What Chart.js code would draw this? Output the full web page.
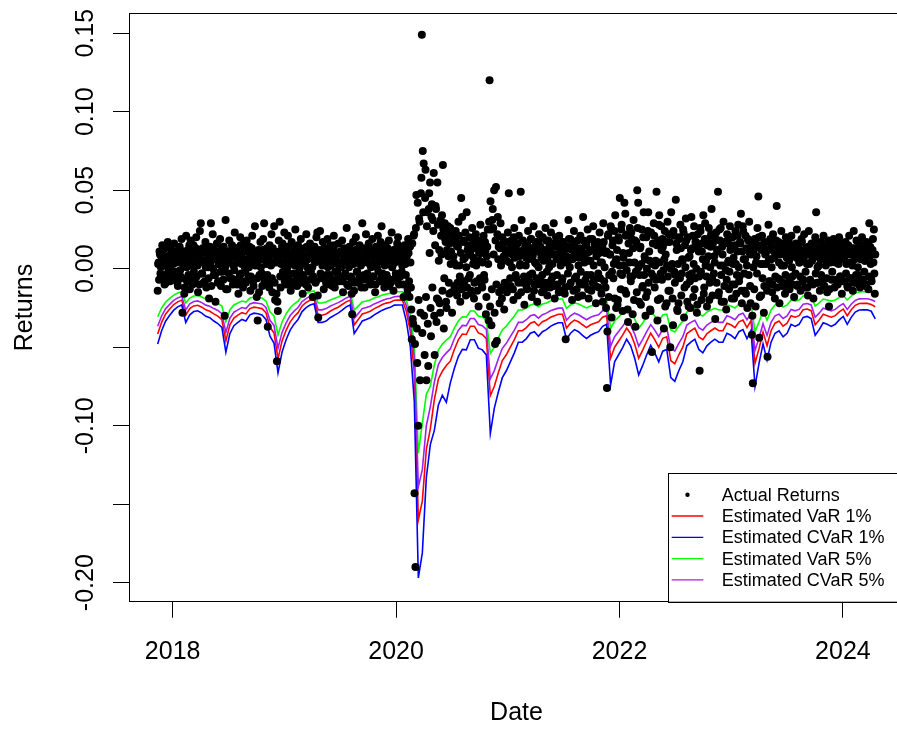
<!DOCTYPE html>
<html>
<head>
<meta charset="utf-8">
<script src="https://cdn.jsdelivr.net/npm/chart.js@4.4.1/dist/chart.umd.min.js"></script>
<style>
  html, body { margin: 0; padding: 0; background: #fff; overflow: hidden; }
  #wrap { width: 920px; height: 729px; }
</style>
</head>
<body>
<div id="wrap"><canvas id="c" width="920" height="729"></canvas></div>
<script>
// Daily returns on an evenly spaced session grid between these two dates.
// The series is stored as two halves: odd sessions and even sessions.
const returnsFirstDate = '2017-11-13';
const returnsLastDate = '2024-04-16';
const returnsOddSessions = [
  -.014,.004,.011,-.003,.008,.015,-.006,.002,.013,-.009,.006,.017,.001,-.004,.009,.012,-.007,.003,.016,.005,
  -.002,.010,-.011,.007,.014,-.005,.019,-.028,.003,-.016,.009,.021,-.008,.012,.004,-.013,.018,.006,-.010,.015,
  .002,-.006,.020,.011,-.015,.008,.024,.029,-.003,.013,-.009,.005,.017,-.012,.010,.001,-.019,.014,.029,.007,
  .022,-.004,.012,-.021,.006,.016,-.008,.003,.019,-.011,.009,-.002,.014,-.030,.031,.004,-.013,.011,.018,-.006,
  .008,.015,-.010,.002,.023,-.007,.013,.005,-.016,.010,.020,-.003,.007,-.012,.016,.001,-.009,.018,.011,-.005,
  .014,-.014,.006,.021,-.008,.010,.027,.003,-.018,-.033,.012,-.004,.017,.008,-.011,.019,.029,-.006,.009,.013,
  -.037,.005,.015,-.009,.022,-.015,.011,.027,-.020,.004,
  -.059,
  -.027,.018,.030,-.012,.009,.016,-.005,.023,.002,-.010,.014,.021,-.003,.008,-.014,.017,.006,-.008,.012,.025,
  .003,-.011,.015,.007,-.004,.019,.010,-.016,.005,.013,-.007,.022,.001,-.012,.009,.016,-.002,.011,-.018,.006,
  .014,-.009,.020,.023,-.031,.012,.024,-.006,.008,.017,-.013,.003,.010,-.004,.019,.007,-.010,.015,.002,-.007,
  .013,.021,-.012,.005,.009,-.003,.016,-.008,.011,.001,.018,-.015,.007,.012,-.005,.026,.004,-.011,.014,.008,
  -.006,-.029,.017,-.014,.009,.020,-.002,.011,-.009,.015,.005,-.012,.029,.007,-.004,.013,.022,-.007,.010,.016,
  .003,-.010,.012,.019,-.005,.008,-.015,.014,.001,.021,.006,-.008,.017,.027,-.003,.010,-.012,.015,.004,.009,
  -.006,.018,.011,-.009,.023,.002,-.014,.012,.007,-.004,.016,.020,-.010,.005,.013,-.002,.009,-.018,.015,.003,
  .011,-.016,.019,-.008,.014,-.012,-.045,-.032,.021,-.143,
  -.190,.047,-.060,-.100,.032,-.071,.048,.149,.075,.067,-.055,.063,-.071,.036,-.062,.048,.055,-.043,.041,.031,
  .061,-.055,.040,-.034,.055,-.020,.012,-.028,.021,.034,.066,-.038,.029,.017,-.025,.022,.008,-.016,.026,.011,
  -.028,.019,.004,-.013,.024,.015,-.009,.030,.002,-.021,.045,.033,-.011,.018,.007,-.017,.036,.012,-.006,.020,
  .009,-.014,.026,.003,-.019,.016,.022,-.008,.013,-.024,.005,.028,.010,-.012,.019,-.004,.017,-.029,.008,.025,
  -.033,.120,.043,-.036,.031,.026,.050,-.048,.052,-.046,.033,.014,-.022,.029,-.012,.020,.006,-.026,.017,.010,
  -.015,.023,.048,.004,-.011,.018,.009,-.020,.026,.013,-.006,.016,-.017,.021,.002,.049,.031,-.009,.012,-.023,
  .015,.007,-.013,.024,.011,-.004,.019,-.018,.008,.027,-.010,.014,.003,-.021,.017,.022,-.007,.010,-.015,.020,
  .005,-.009,.026,.012,-.017,.018,.001,-.012,.023,.009,-.005,.029,-.019,.014,.006,-.010,.016,.021,-.014,.008,
  -.008,.017,.011,-.016,-.045,.013,.004,.031,-.011,.019,.007,-.020,.015,.024,-.006,.010,-.013,.018,.002,-.009,
  .021,.012,-.017,.033,.008,-.010,.016,-.004,.025,-.019,.011,.005,-.014,.019,.027,-.007,.013,-.022,.009,.017,
  -.012,.023,.004,-.016,.014,.029,-.008,.010,-.025,
  -.076,
  .021,-.018,.009,.027,-.031,.015,-.006,.024,.034,-.025,.012,-.020,.018,.045,-.013,.028,-.027,.007,.042,.035,
  -.016,.022,-.034,.010,.026,-.008,.019,-.029,.031,.004,-.037,.017,.050,.042,-.021,.013,-.023,.025,-.011,.036,
  .008,-.030,.020,-.015,.036,.011,-.026,.023,-.053,.016,.029,-.012,.005,.049,-.033,.018,.034,-.019,.027,-.007,
  .014,-.038,.024,.009,-.022,.030,-.014,.017,-.050,.036,.003,-.036,.021,-.009,.044,.012,-.027,-.022,.019,.028,
  -.017,.006,.025,-.031,.015,.032,-.010,.020,-.024,.008,-.025,.033,.013,-.018,.027,-.006,.017,-.028,.022,.011,
  -.065,
  .024,-.020,.016,.034,-.012,.029,.005,-.024,.019,.026,-.009,.014,.038,-.017,.021,.008,-.032,.023,.012,
  .049,
  -.015,.018,.026,-.021,.009,.030,-.011,.016,-.026,.022,.004,-.013,.027,.015,-.019,.020,.007,-.010,.024,
  -.016,.011,.028,-.008,.017,.035,-.022,.027,.006,-.014,.021,.013,-.025,.018,.030,-.011,.009,-.042,-.073,.012,
  .019,-.024,.008,.026,.046,-.044,.015,-.017,.021,.003,-.028,.017,.010,-.012,-.056,.028,-.008,.019,.006,-.015,
  .022,.011,-.019,.013,.040,-.006,.017,-.022,.009,.024,-.011,.015,.002,-.016,.020,.007,-.009,.018,-.013,.012,
  .021,-.005,.014,-.018,.008,.016,.025,-.010,.011,.004,-.014,.019,.009,-.007,.022,-.012,.013,.003,-.017,.024,
  .010,-.008,.016,.006,-.019,.013,.020,.036,-.009,.012,.002,-.014,.017,.008,-.006,.021,-.011,.014,.005,-.015,
  .018,-.024,.009,.015,-.007,.012,.019,-.012,.004,.016,-.009,.011,.020,-.005,.007,-.016,.014,.010,-.008,.017,
  .003,-.011,.015,.021,-.006,.009,.013,-.014,.024,.006,-.009,.018,.011,-.004,.016,-.012,.008,.020,-.007,.012,
  .005,-.010,.017,.009,-.013,.029,.014,-.006,.011,.019,.025,-.016
];
const returnsEvenSessions = [
  .003,-.007,.009,.001,-.004,.012,.006,-.010,.002,.008,-.003,.014,.000,-.008,.005,.010,-.002,.007,-.005,.011,
  .004,-.009,.006,.013,-.001,.008,-.006,.003,.011,-.012,.005,.001,.009,-.004,.015,.002,-.007,.010,.004,-.002,
  .007,.013,-.005,.002,.009,-.010,.006,.012,-.003,.004,.010,-.008,.001,.014,.005,-.006,.008,.003,-.011,.011,
  .000,.006,-.004,.010,.016,-.009,.003,.007,-.002,.012,.005,-.007,.009,.001,-.013,.006,.011,-.003,.004,.008,
  -.006,.010,.002,-.001,.013,.007,-.010,.004,.009,-.004,.015,.003,-.008,.006,.011,-.002,.005,.012,-.007,.001,
  .008,-.005,.013,.004,-.011,.007,.002,.010,-.006,.005,-.015,.009,.001,-.003,.012,.006,-.008,.011,.003,-.004,
  .007,-.012,.010,.002,-.006,.013,.004,-.009,.008,-.016,-.021,.006,.011,-.005,.003,.014,-.002,.009,-.008,.005,
  .012,.001,-.006,.010,.004,-.011,.007,.015,-.003,.002,.009,-.007,.006,.013,.000,-.009,.011,.004,-.004,.008,
  .003,-.010,.014,.006,-.002,.009,-.007,.012,.001,-.005,.010,.004,-.008,.007,-.017,.005,.011,-.003,.008,.002,
  -.006,.013,.005,-.009,.010,.001,.007,-.004,.012,.003,-.011,.008,.015,-.002,.006,-.007,.010,.002,-.005,.011,
  .004,-.008,.009,.013,-.003,.006,-.010,.011,.001,.007,-.005,-.016,.010,.003,-.009,.012,.005,-.002,.008,-.006,
  .014,.002,-.007,.009,.004,-.012,.011,.006,-.003,.008,.013,-.008,.001,.010,-.005,.007,.003,-.010,.012,.004,
  -.002,.009,.015,-.006,.005,.011,-.009,.002,.008,-.004,.013,.006,-.011,.003,.010,.001,-.007,.012,.004,-.003,
  .009,-.008,.014,.005,-.005,.011,.002,-.010,.007,.013,-.004,.008,-.013,.010,-.018,.004,-.026,.016,-.035,.022,
  -.048,.026,-.038,.042,-.020,.030,-.028,.058,-.041,.036,-.030,.045,-.018,.027,-.035,.038,.010,-.025,.033,-.012,
  .024,-.030,.015,.038,-.019,.028,.005,-.022,.031,.009,-.014,.025,-.006,.019,-.021,.012,.027,-.009,.016,.003,
  -.015,.022,.008,-.011,.018,.002,-.017,.014,.021,-.005,.010,-.013,.017,.006,-.008,.023,.001,-.012,.015,.009,
  -.004,.012,-.016,.019,.007,-.009,.013,.002,-.014,.018,.010,-.006,.015,-.011,.004,.021,-.007,.011,-.018,.014,
  .003,.030,-.024,.025,-.013,.038,.009,-.028,.018,-.010,.022,.006,-.015,.013,.002,-.019,.016,.008,-.009,.012,
  .005,-.011,.017,.010,-.006,.014,.001,-.013,.020,.007,-.004,.012,.016,-.009,.008,.003,-.015,.011,.018,-.005,
  .009,.002,-.012,.015,.006,-.008,.013,.019,-.003,.010,-.014,.004,.017,-.006,.011,.001,-.010,.014,.007,-.004,
  .012,-.013,.008,.018,-.002,.005,-.009,.015,.011,-.007,.003,.016,-.011,.009,.020,-.004,.006,-.015,.013,.002,
  .010,-.006,.017,.004,-.012,.008,.014,-.003,.019,.001,-.009,.012,.006,-.014,.016,.009,-.005,.011,-.018,.007,
  .013,-.002,.008,-.010,.018,.004,-.007,.015,.010,-.013,.005,.019,-.004,.012,-.009,.002,.016,-.011,.008,.014,
  -.003,.010,-.006,.013,.004,-.021,.017,.001,-.012,.011,-.040,.022,-.004,.009,.026,-.002,.018,.003,-.019,.005,
  .006,-.023,.020,.002,-.003,.025,-.004,.010,.002,-.014,.021,-.001,-.026,.016,.004,-.005,.023,-.005,.013,-.020,
  .018,-.002,-.015,.026,.001,-.004,.014,.003,-.012,.020,-.004,.006,-.018,.000,.024,-.009,.005,-.027,-.003,.003,
  -.005,.021,.002,-.007,.015,-.020,.028,.004,-.003,.012,.019,-.001,.006,-.024,.017,.002,-.005,.022,-.014,.000,
  .002,-.019,.024,-.002,-.004,.016,-.026,.003,.020,-.006,.013,-.003,.005,.023,-.012,.001,.018,-.021,.007,-.004,
  -.008,.012,-.003,.021,.003,-.013,.017,.000,-.023,.014,-.005,.026,-.002,.011,.006,-.016,.019,.002,-.005,.015,
  .008,-.020,.001,.022,-.006,.016,-.003,.004,.019,-.009,.011,-.017,.025,.002,-.004,.014,.002,-.021,.017,-.001,
  -.007,.018,.005,-.002,.012,.020,-.010,.003,-.019,.015,.003,-.004,.021,.001,-.005,.016,-.014,.011,.024,-.003,
  .006,-.016,.002,.019,-.004,.010,-.022,.015,-.030,.001,-.013,.017,.004,-.003,.014,.020,-.018,.003,.012,-.006,
  .015,-.011,.009,.003,-.014,.012,.006,-.008,.016,.001,-.010,.013,.007,-.005,.018,-.012,.010,.004,-.007,.014,
  .002,-.009,.011,.016,-.004,.008,-.013,.012,.005,-.006,.015,.001,-.010,.009,.013,-.003,.007,-.011,.014,.004,
  -.005,.010,.017,-.008,.006,.012,-.002,.009,-.012,.014,.003,-.007,.011,.005,-.010,.016,.008,-.003,.012,.001,
  -.009,.013,.006,-.004,.010,.015,-.011,.007,.002,-.006,.012,.009,-.013,.004,.011,-.002,.008,.014,-.007,.005,
  .010,-.010,.003,.013,-.005,.008,.016,-.008,.006,.011,-.003,.009,-.012,.014,.004,-.006,.010,.002,-.009,.013,
  .007,-.004,.012,.001,-.010,.015,.006,-.007,.009,.013,-.002,.005,-.011,.010,.016,-.005,.008,.003,-.008,.012,
  .004,-.003,.009
];

// Risk estimates, on an evenly spaced date grid between these two dates
const riskFirstDate = '2017-11-13';
const riskLastDate = '2024-04-16';
const var1 = [
  -.0416,-.0340,-.0288,-.0257,-.0228,-.0211,-.0200,-.0296,-.0254,-.0237,
  -.0233,-.0245,-.0262,-.0271,-.0288,-.0302,-.0324,-.0460,-.0358,-.0314,
  -.0296,-.0280,-.0288,-.0254,-.0245,-.0249,-.0254,-.0280,-.0373,-.0409,
  -.0574,-.0461,-.0393,-.0340,-.0306,-.0280,-.0237,-.0215,-.0200,-.0193,
  -.0296,-.0296,-.0288,-.0271,-.0257,-.0245,-.0228,-.0211,-.0200,-.0358,
  -.0324,-.0288,-.0280,-.0271,-.0254,-.0242,-.0228,-.0219,-.0214,-.0201,
  -.0200,-.0200,-.0271,-.0401,-.0661,-.1600,-.1480,-.1150,-.1020,-.0834,
  -.0704,-.0653,-.0617,-.0589,-.0514,-.0453,-.0416,-.0419,-.0366,-.0366,
  -.0409,-.0419,-.0445,-.0809,-.0749,-.0662,-.0585,-.0548,-.0500,-.0452,
  -.0395,-.0395,-.0375,-.0347,-.0338,-.0363,-.0338,-.0327,-.0309,-.0299,
  -.0290,-.0290,-.0378,-.0347,-.0327,-.0338,-.0357,-.0375,-.0357,-.0347,
  -.0338,-.0309,-.0299,-.0570,-.0500,-.0462,-.0423,-.0378,-.0414,-.0480,
  -.0570,-.0519,-.0462,-.0411,-.0452,-.0500,-.0443,-.0434,-.0585,-.0605,
  -.0548,-.0500,-.0414,-.0395,-.0378,-.0434,-.0452,-.0414,-.0395,-.0378,
  -.0395,-.0395,-.0347,-.0357,-.0375,-.0338,-.0327,-.0375,-.0330,-.0602,
  -.0509,-.0404,-.0491,-.0395,-.0347,-.0333,-.0366,-.0347,-.0299,-.0309,
  -.0299,-.0261,-.0257,-.0267,-.0357,-.0327,-.0290,-.0299,-.0309,-.0299,
  -.0275,-.0257,-.0299,-.0261,-.0233,-.0222,-.0221,-.0221,-.0228,-.0242
];
const cvar1 = [
  -.0480,-.0393,-.0333,-.0297,-.0264,-.0243,-.0231,-.0342,-.0294,-.0273,
  -.0268,-.0283,-.0303,-.0312,-.0333,-.0349,-.0374,-.0531,-.0413,-.0363,
  -.0342,-.0323,-.0333,-.0294,-.0283,-.0287,-.0294,-.0323,-.0430,-.0473,
  -.0663,-.0532,-.0454,-.0393,-.0353,-.0323,-.0273,-.0248,-.0231,-.0223,
  -.0342,-.0342,-.0333,-.0312,-.0297,-.0283,-.0264,-.0243,-.0231,-.0413,
  -.0374,-.0333,-.0323,-.0312,-.0294,-.0279,-.0264,-.0253,-.0246,-.0232,
  -.0231,-.0231,-.0334,-.0496,-.0850,-.1970,-.1810,-.1330,-.1120,-.1030,
  -.0870,-.0806,-.0850,-.0727,-.0635,-.0559,-.0514,-.0517,-.0452,-.0452,
  -.0506,-.0517,-.0549,-.1050,-.0888,-.0785,-.0694,-.0650,-.0593,-.0536,
  -.0468,-.0468,-.0445,-.0411,-.0401,-.0431,-.0401,-.0388,-.0367,-.0354,
  -.0344,-.0344,-.0449,-.0411,-.0388,-.0401,-.0424,-.0445,-.0424,-.0411,
  -.0401,-.0367,-.0354,-.0740,-.0593,-.0548,-.0502,-.0449,-.0491,-.0570,
  -.0676,-.0616,-.0548,-.0488,-.0536,-.0593,-.0525,-.0514,-.0694,-.0717,
  -.0650,-.0593,-.0491,-.0468,-.0449,-.0514,-.0536,-.0491,-.0468,-.0449,
  -.0468,-.0468,-.0411,-.0424,-.0445,-.0401,-.0388,-.0445,-.0392,-.0750,
  -.0603,-.0479,-.0582,-.0468,-.0411,-.0395,-.0434,-.0411,-.0354,-.0367,
  -.0354,-.0310,-.0304,-.0317,-.0424,-.0388,-.0344,-.0354,-.0367,-.0354,
  -.0326,-.0304,-.0354,-.0310,-.0276,-.0263,-.0262,-.0262,-.0271,-.0320
];
const var5 = [
  -.0306,-.0250,-.0212,-.0189,-.0168,-.0155,-.0147,-.0218,-.0187,-.0174,
  -.0171,-.0180,-.0193,-.0199,-.0212,-.0222,-.0238,-.0338,-.0263,-.0231,
  -.0218,-.0206,-.0212,-.0187,-.0180,-.0183,-.0187,-.0206,-.0274,-.0301,
  -.0422,-.0339,-.0289,-.0250,-.0225,-.0206,-.0174,-.0158,-.0147,-.0142,
  -.0218,-.0218,-.0212,-.0199,-.0189,-.0180,-.0168,-.0155,-.0147,-.0263,
  -.0238,-.0212,-.0206,-.0199,-.0187,-.0178,-.0168,-.0161,-.0157,-.0148,
  -.0147,-.0147,-.0199,-.0295,-.0486,-.1174,-.0983,-.0800,-.0747,-.0613,
  -.0518,-.0480,-.0454,-.0433,-.0378,-.0333,-.0306,-.0308,-.0269,-.0269,
  -.0301,-.0308,-.0327,-.0539,-.0499,-.0441,-.0390,-.0365,-.0333,-.0301,
  -.0263,-.0263,-.0250,-.0231,-.0225,-.0242,-.0225,-.0218,-.0206,-.0199,
  -.0193,-.0193,-.0252,-.0231,-.0218,-.0225,-.0238,-.0250,-.0238,-.0231,
  -.0225,-.0206,-.0199,-.0380,-.0333,-.0308,-.0282,-.0252,-.0276,-.0320,
  -.0380,-.0346,-.0308,-.0274,-.0301,-.0333,-.0295,-.0289,-.0390,-.0403,
  -.0365,-.0333,-.0276,-.0263,-.0252,-.0289,-.0301,-.0276,-.0263,-.0252,
  -.0263,-.0263,-.0231,-.0238,-.0250,-.0225,-.0218,-.0250,-.0220,-.0401,
  -.0339,-.0269,-.0327,-.0263,-.0231,-.0222,-.0244,-.0231,-.0199,-.0206,
  -.0199,-.0174,-.0171,-.0178,-.0238,-.0218,-.0193,-.0199,-.0206,-.0199,
  -.0183,-.0171,-.0199,-.0174,-.0155,-.0148,-.0147,-.0147,-.0152,-.0161
];
const cvar5 = [
  -.0367,-.0300,-.0254,-.0227,-.0202,-.0186,-.0176,-.0262,-.0224,-.0209,
  -.0205,-.0216,-.0232,-.0239,-.0254,-.0266,-.0286,-.0406,-.0316,-.0277,
  -.0262,-.0247,-.0254,-.0224,-.0216,-.0220,-.0224,-.0247,-.0329,-.0361,
  -.0506,-.0407,-.0347,-.0300,-.0270,-.0247,-.0209,-.0190,-.0176,-.0170,
  -.0262,-.0262,-.0254,-.0239,-.0227,-.0216,-.0202,-.0186,-.0176,-.0316,
  -.0286,-.0254,-.0247,-.0239,-.0224,-.0214,-.0202,-.0193,-.0188,-.0178,
  -.0176,-.0176,-.0235,-.0348,-.0573,-.1389,-.1280,-.1000,-.0880,-.0723,
  -.0611,-.0566,-.0536,-.0511,-.0446,-.0393,-.0361,-.0363,-.0317,-.0317,
  -.0355,-.0363,-.0386,-.0701,-.0649,-.0573,-.0507,-.0475,-.0433,-.0391,
  -.0342,-.0342,-.0325,-.0300,-.0293,-.0315,-.0293,-.0283,-.0268,-.0259,
  -.0251,-.0251,-.0328,-.0300,-.0283,-.0293,-.0309,-.0325,-.0309,-.0300,
  -.0293,-.0268,-.0259,-.0494,-.0433,-.0400,-.0367,-.0328,-.0359,-.0416,
  -.0494,-.0450,-.0400,-.0356,-.0391,-.0433,-.0384,-.0376,-.0507,-.0524,
  -.0475,-.0433,-.0359,-.0342,-.0328,-.0376,-.0391,-.0359,-.0342,-.0328,
  -.0342,-.0342,-.0300,-.0309,-.0325,-.0293,-.0283,-.0325,-.0286,-.0521,
  -.0441,-.0350,-.0425,-.0342,-.0300,-.0289,-.0317,-.0300,-.0259,-.0268,
  -.0259,-.0226,-.0222,-.0231,-.0309,-.0283,-.0251,-.0259,-.0268,-.0259,
  -.0238,-.0222,-.0259,-.0226,-.0202,-.0192,-.0191,-.0191,-.0198,-.0209
];

const seriesLabels = ['Actual Returns', 'Estimated VaR 1%', 'Estimated CVaR 1%', 'Estimated VaR 5%', 'Estimated CVaR 5%'];
const seriesColors = ['#000000', '#FF0000', '#0000FF', '#00FF00', '#A020F0'];
const xTickValues = [2018, 2020, 2022, 2024];
const xTickLabels = ['2018', '2020', '2022', '2024'];
const yTickValues = [-0.20, -0.15, -0.10, -0.05, 0.00, 0.05, 0.10, 0.15];
const yTickLabels = ['-0.20', '', '-0.10', '', '0.00', '0.05', '0.10', '0.15'];
const xTitle = 'Date';
const yTitle = 'Returns';

// put the two halves back in session order
const actualReturns = [];
returnsOddSessions.forEach((v, i) => {
  actualReturns.push(v);
  if (i < returnsEvenSessions.length) actualReturns.push(returnsEvenSessions[i]);
});

// Dates are plotted as fractional years
function decimalYear(ms) {
  const y = new Date(ms).getUTCFullYear();
  const a = Date.UTC(y, 0, 1), b = Date.UTC(y + 1, 0, 1);
  return y + (ms - a) / (b - a);
}
function dateGrid(first, last, n) {
  const a = Date.parse(first + 'T00:00:00Z'), b = Date.parse(last + 'T00:00:00Z');
  return Array.from({ length: n }, (_, i) => decimalYear(a + (b - a) * i / (n - 1)));
}
const returnDates = dateGrid(returnsFirstDate, returnsLastDate, actualReturns.length);
const riskDates = dateGrid(riskFirstDate, riskLastDate, var1.length);
const pairs = (xs, ys) => ys.map((y, i) => ({ x: xs[i], y }));

const FONT = '"Liberation Sans", Arial, Helvetica, sans-serif';

// Frame, tick labels, axis titles and the legend in base-graphics style
const decorations = {
  id: 'decorations',
  afterDraw(chart) {
    const { ctx, chartArea: ca, scales } = chart;
    ctx.save();
    ctx.strokeStyle = '#000';
    ctx.lineWidth = 1;
    ctx.strokeRect(Math.round(ca.left) + 0.5, Math.round(ca.top) + 0.5,
                   Math.round(ca.right - ca.left), Math.round(ca.bottom - ca.top));

    ctx.fillStyle = '#000';
    ctx.font = '25px ' + FONT;
    ctx.textAlign = 'center';
    ctx.textBaseline = 'alphabetic';
    xTickValues.forEach((v, i) => {
      ctx.fillText(xTickLabels[i], scales.x.getPixelForValue(v), ca.bottom + 57.5);
    });
    yTickValues.forEach((v, i) => {
      if (!yTickLabels[i]) return;
      ctx.save();
      ctx.translate(ca.left - 35.7, scales.y.getPixelForValue(v));
      ctx.rotate(-Math.PI / 2);
      ctx.fillText(yTickLabels[i], 0, 0);
      ctx.restore();
    });
    ctx.fillText(xTitle, (ca.left + ca.right) / 2, ca.bottom + 118.5);
    ctx.save();
    ctx.translate(31.7, (ca.top + ca.bottom) / 2);
    ctx.rotate(-Math.PI / 2);
    ctx.fillText(yTitle, 0, 0);
    ctx.restore();

    // legend, anchored to the bottom-right corner of the plot
    const lw = 236, lh = 129;
    const lx = ca.right - lw, ly = ca.bottom - lh;
    ctx.fillStyle = '#fff';
    ctx.fillRect(lx, ly, lw, lh);
    ctx.strokeStyle = '#000';
    ctx.strokeRect(Math.round(lx) + 0.5, Math.round(ly) + 0.5, lw, lh);
    ctx.font = '18px ' + FONT;
    ctx.textAlign = 'left';
    ctx.textBaseline = 'middle';
    seriesLabels.forEach((label, k) => {
      const cy = ly + 22 + k * 21.3;
      if (k === 0) {
        ctx.fillStyle = seriesColors[0];
        ctx.beginPath();
        ctx.arc(lx + 19.5, cy, 2.2, 0, Math.PI * 2);
        ctx.fill();
      } else {
        ctx.strokeStyle = seriesColors[k];
        ctx.lineWidth = 1.3;
        ctx.beginPath();
        ctx.moveTo(lx + 3.7, cy);
        ctx.lineTo(lx + 35.3, cy);
        ctx.stroke();
      }
      ctx.fillStyle = '#000';
      ctx.fillText(label, lx + 53.7, cy + 1);
    });
    ctx.restore();
  }
};

// lower order is painted later: points on top, then CVaR 5%, VaR 5%, CVaR 1%, VaR 1%
const riskSeries = [var1, cvar1, var5, cvar5];
const datasets = [{
  type: 'scatter',
  label: seriesLabels[0],
  data: pairs(returnDates, actualReturns),
  backgroundColor: seriesColors[0],
  borderWidth: 0,
  pointRadius: 4,
  pointHoverRadius: 4,
  order: 0
}].concat(riskSeries.map((s, k) => ({
  type: 'line',
  label: seriesLabels[k + 1],
  data: pairs(riskDates, s),
  borderColor: seriesColors[k + 1],
  backgroundColor: seriesColors[k + 1],
  borderWidth: 1.6,
  pointRadius: 0,
  fill: false,
  tension: 0,
  order: 4 - k
})));

const axisGrid = { drawOnChartArea: false, drawTicks: true, tickLength: 16, color: '#000', lineWidth: 1 };

new Chart(document.getElementById('c'), {
  type: 'scatter',
  data: { datasets },
  options: {
    responsive: false,
    animation: false,
    devicePixelRatio: 1,
    events: [],
    layout: { padding: { top: 13.3, right: 16, left: 0, bottom: 0 } },
    plugins: { legend: { display: false }, tooltip: { enabled: false } },
    scales: {
      x: {
        type: 'linear', min: 2017.609, max: 2024.547,
        afterBuildTicks: s => { s.ticks = xTickValues.map(v => ({ value: v })); },
        afterFit: s => { s.height = 127.3; },
        grid: axisGrid, border: { display: false }, ticks: { display: false }
      },
      y: {
        type: 'linear', min: -0.2121, max: 0.1627,
        afterBuildTicks: s => { s.ticks = yTickValues.map(v => ({ value: v })); },
        afterFit: s => { s.width = 129; },
        grid: axisGrid, border: { display: false }, ticks: { display: false }
      }
    }
  },
  plugins: [decorations]
});
</script>
</body>
</html>
